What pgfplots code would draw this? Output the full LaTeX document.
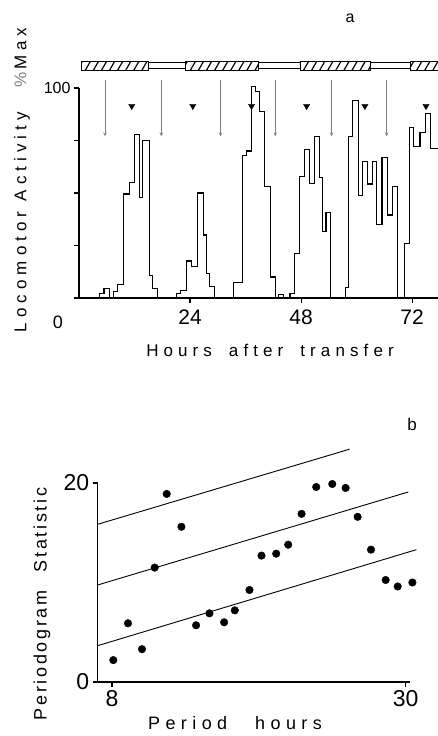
\documentclass[border=0pt]{standalone}
\usepackage{fontspec}
\setmainfont{Liberation Sans}
\newfontfamily\spc[LetterSpace=30]{Liberation Sans}
\newfontfamily\spcb[LetterSpace=15]{Liberation Sans}
\usepackage{pgfplots}
\pgfplotsset{compat=1.18}
\usepackage{pgfplotstable}
\usetikzlibrary{patterns.meta}

% hourly locomotor activity, % of max (left edge of each step)
\pgfplotstableread{
h v
0 0
4.5 2.2
5.4 4.6
6.5 0
7.4 3
8.4 6.5
9.6 49.5
11.0 55
12.0 78
13.0 48
13.8 75
15.3 10.5
15.9 4.6
16.9 0
21.1 2.2
21.9 3.5
23.3 17.6
24.4 15
25.7 50
26.9 30
27.5 11.8
28.3 5.4
29.3 0
33.3 7.5
35.4 68
36.2 70
37.2 100.5
38.2 98.5
39.1 89
40.0 53.3
41.4 10
42.4 0
43.2 1.5
44.3 0
45.6 2.3
46.5 21.3
47.6 57.8
48.8 70.8
49.9 54.5
51.0 76.7
52.0 57.5
52.7 31.6
53.4 40.6
54.3 0
57.6 5
58.3 77
59.2 94
60.4 48.6
61.3 65
62.3 54.3
63.4 65
64.4 34.8
65.5 67
66.6 39.5
67.8 53.3
68.8 0
70.4 26
71.4 81
72.4 72
73.7 78.7
74.9 88
76.0 71.3
77.6 71.3
}\activity

% periodogram statistic against trial period
\pgfplotstableread{
p s
8.1 2.2
9.2 5.9
10.25 3.3
11.2 11.5
12.1 18.9
13.2 15.6
14.3 5.7
15.3 6.9
16.4 6.0
17.2 7.2
18.3 9.25
19.2 12.7
20.3 12.9
21.2 13.8
22.2 16.9
23.3 19.6
24.5 19.9
25.5 19.5
26.4 16.6
27.4 13.3
28.5 10.25
29.4 9.6
30.5 10.0
}\periodogram

\pgfplotsset{panel/.style={
    scale only axis, axis lines=left,
    axis line style={-, line width=1.1pt},
    tick align=outside, major tick length=5pt,
    tick style={black, line width=1.1pt},
    clip=false,
    /pgf/number format/assume math mode=true,
}}

\begin{document}
\begin{tikzpicture}
\path[use as bounding box] (0,0) rectangle (438pt,736pt);

\begin{axis}[panel,
    at={(79pt,438pt)}, anchor=south west,
    width=359pt, height=210pt,
    xmin=0, xmax=77.6, ymin=0, ymax=100,
    xtick={24,48,72}, ytick={0,25,50,75,100},
    yticklabels={,,,,100},
    xticklabel style={font=\fontsize{21}{24}\selectfont, yshift=-3pt},
    yticklabel style={font=\fontsize{16}{18}\selectfont},
]
% light / dark bar
\addplot[draw=black, line width=0.8pt,
    pattern={Lines[angle=60, distance=7pt, line width=1.2pt]}]
    coordinates {(0.6,108.6) (15,108.6) (15,112.5) (0.6,112.5)} --cycle;
\addplot[draw=black, line width=0.8pt,
    pattern={Lines[angle=60, distance=7pt, line width=1.2pt]}]
    coordinates {(22.9,108.6) (38.8,108.6) (38.8,112.5) (22.9,112.5)} --cycle;
\addplot[draw=black, line width=0.8pt,
    pattern={Lines[angle=60, distance=7pt, line width=1.2pt]}]
    coordinates {(47.8,108.6) (62.9,108.6) (62.9,112.5) (47.8,112.5)} --cycle;
\addplot[draw=black, line width=0.8pt,
    pattern={Lines[angle=60, distance=7pt, line width=1.2pt]}]
    coordinates {(71.6,108.6) (77.6,108.6) (77.6,112.5) (71.6,112.5)} --cycle;
\addplot[draw=black, fill=white, line width=0.8pt]
    coordinates {(15,109.2) (22.9,109.2) (22.9,112.0) (15,112.0)} --cycle;
\addplot[draw=black, fill=white, line width=0.8pt]
    coordinates {(38.8,109.2) (47.8,109.2) (47.8,112.0) (38.8,112.0)} --cycle;
\addplot[draw=black, fill=white, line width=0.8pt]
    coordinates {(62.9,109.2) (71.6,109.2) (71.6,112.0) (62.9,112.0)} --cycle;
% arrows
\addplot[gray, line width=0.7pt, -stealth, quiver={u=0, v=-27}]
    coordinates {(5.6,104) (17.8,104) (30.6,104) (42.4,104) (54.6,104) (66.5,104)};
% triangles
\addplot[only marks, mark=triangle*, mark size=3.6pt,
    mark options={rotate=180, fill=black}]
    coordinates {(11.4,91.4) (24.6,91.4) (37.3,91.4) (49.2,91.4) (61.8,91.4) (75.0,91.4)};
\addplot[const plot, black, line width=1.1pt] table[x=h, y=v] {\activity};
\end{axis}

\node[font=\spc\fontsize{17}{20}\selectfont] at (270pt,386pt)
    {Hours\quad after\quad transfer};
\node[font=\fontsize{18}{20}\selectfont] at (58pt,414pt) {0};
\node[rotate=90, font=\spc\fontsize{17}{20}\selectfont] at (22pt,556pt)
    {Locomotor\hspace{10pt}Activity\hspace{24pt}\textcolor{gray}{\%}\,Max};
\node[font=\fontsize{16}{18}\selectfont] at (350pt,718pt) {a};

\begin{axis}[panel,
    at={(97.7pt,54pt)}, anchor=south west,
    width=312pt, height=199pt,
    xmin=6.93, xmax=30.3, ymin=0, ymax=20,
    xtick={8,30}, ytick={0,20},
    tick label style={font=\fontsize{23}{26}\selectfont},
]
\addplot[black, line width=0.9pt] coordinates {(6.93,15.85) (25.8,23.4)};
\addplot[black, line width=0.9pt] coordinates {(6.93,9.75) (30.2,19.1)};
\addplot[black, line width=0.9pt] coordinates {(6.93,3.65) (30.8,13.3)};
\addplot[only marks, mark=*, mark size=3.8pt, black] table[x=p, y=s] {\periodogram};
\end{axis}

\node[font=\spc\fontsize{18}{21}\selectfont] at (235pt,13pt)
    {Period\hspace{28pt}hours};
\node[rotate=90, font=\spcb\fontsize{18}{21}\selectfont] at (42pt,132pt)
    {Periodogram\quad Statistic};
\node[font=\fontsize{17}{20}\selectfont] at (412pt,312pt) {b};
\end{tikzpicture}
\end{document}
